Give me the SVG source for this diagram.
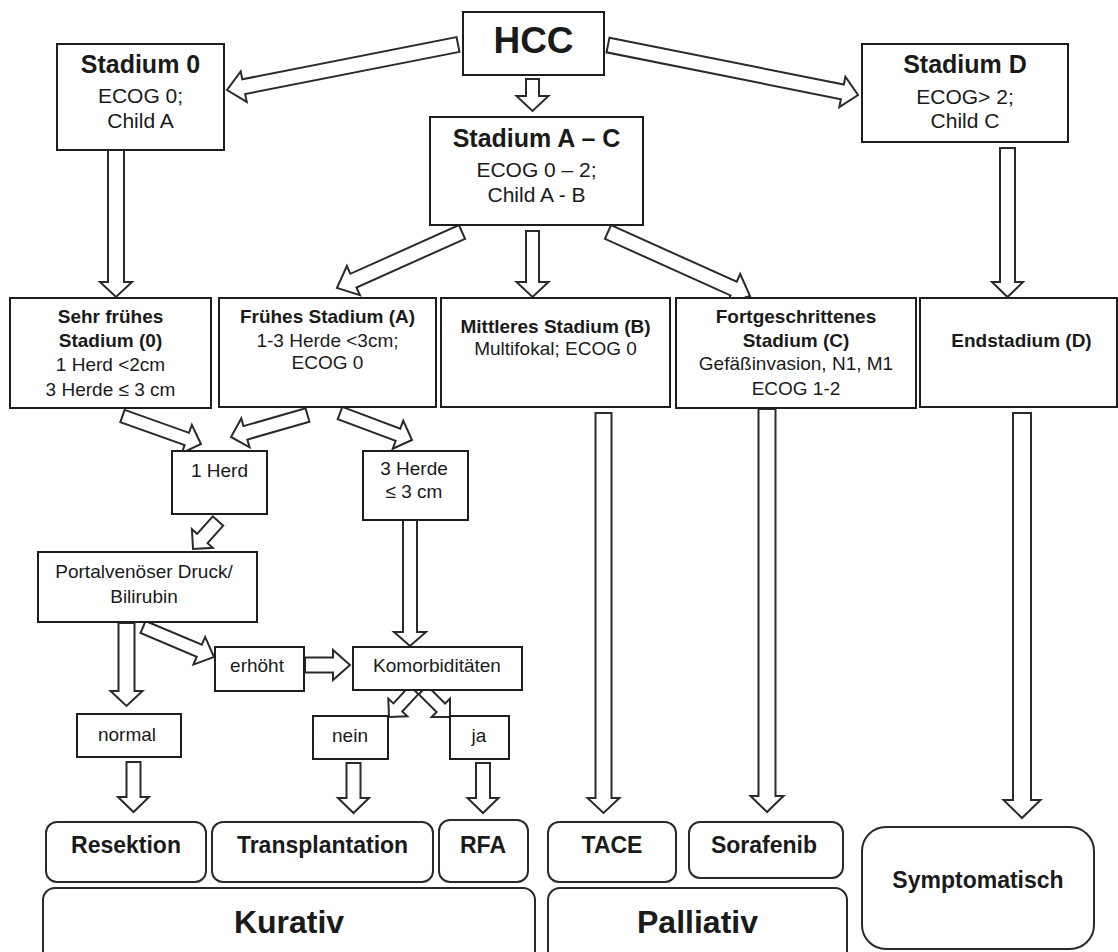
<svg xmlns="http://www.w3.org/2000/svg" width="1118" height="952" viewBox="0 0 1118 952">
<style>
.bg{fill:#ffffff}
.arr{fill:#ffffff;stroke:#2a2a2a;stroke-width:2;stroke-linejoin:miter}
.box{fill:#ffffff;stroke:#1e1e1e;stroke-width:2}
.rbox{fill:#ffffff;stroke:#2a2a2a;stroke-width:2}
text{font-family:"Liberation Sans",Arial,sans-serif;fill:#1a1a1a;text-anchor:middle}
.hcc{font-size:37px;font-weight:bold}
.t1{font-size:25px;font-weight:bold}
.d1{font-size:21px}
.t2{font-size:19px;font-weight:bold}
.d2{font-size:19px}
.tr{font-size:23px;font-weight:bold}
.big{font-size:32px;font-weight:bold}
</style>
<rect class="bg" x="0" y="0" width="1118" height="952"/>
<g id="connectors">
<polygon class="arr" transform="translate(458,44.5) rotate(168.86)" points="0,-7.5 218.4,-7.5 218.4,-15.5 235.4,0 218.4,15.5 218.4,7.5 0,7.5"/>
<polygon class="arr" transform="translate(532.5,79) rotate(90)" points="0,-6.5 17,-6.5 17,-16 32,0 17,16 17,6.5 0,6.5"/>
<polygon class="arr" transform="translate(608,45) rotate(11.31)" points="0,-7.5 239,-7.5 239,-15.5 255,0 239,15.5 239,7.5 0,7.5"/>
<polygon class="arr" transform="translate(116,150) rotate(90)" points="0,-8 132,-8 132,-16 147,0 132,16 132,8 0,8"/>
<polygon class="arr" transform="translate(1007.5,148) rotate(90)" points="0,-7.5 134,-7.5 134,-15.5 149,0 134,15.5 134,7.5 0,7.5"/>
<polygon class="arr" transform="translate(462,232) rotate(155.87)" points="0,-7.5 119,-7.5 119,-16 137,0 119,16 119,7.5 0,7.5"/>
<polygon class="arr" transform="translate(532.5,231) rotate(90)" points="0,-6.5 51,-6.5 51,-16 66,0 51,16 51,6.5 0,6.5"/>
<polygon class="arr" transform="translate(608,232) rotate(24.26)" points="0,-7.5 137.8,-7.5 137.8,-16 155.8,0 137.8,16 137.8,7.5 0,7.5"/>
<polygon class="arr" transform="translate(122.5,416) rotate(19.63)" points="0,-6.5 68.3,-6.5 68.3,-15 83.3,0 68.3,15 68.3,6.5 0,6.5"/>
<polygon class="arr" transform="translate(307.5,415) rotate(163.96)" points="0,-7 64.6,-7 64.6,-15 79.6,0 64.6,15 64.6,7 0,7"/>
<polygon class="arr" transform="translate(340,413) rotate(20.56)" points="0,-6.5 61.9,-6.5 61.9,-15 76.9,0 61.9,15 61.9,6.5 0,6.5"/>
<polygon class="arr" transform="translate(218,521) rotate(131.76)" points="0,-7 23.5,-7 23.5,-14 37.5,0 23.5,14 23.5,7 0,7"/>
<polygon class="arr" transform="translate(126.5,623) rotate(90)" points="0,-8 68,-8 68,-16 83,0 68,16 68,8 0,8"/>
<polygon class="arr" transform="translate(143,627) rotate(22.9)" points="0,-6.5 61.1,-6.5 61.1,-15 77.1,0 61.1,15 61.1,6.5 0,6.5"/>
<polygon class="arr" transform="translate(305,665)" points="0,-7.5 28,-7.5 28,-15 45,0 28,15 28,7.5 0,7.5"/>
<polygon class="arr" transform="translate(410,520) rotate(90)" points="0,-7 112,-7 112,-16 126,0 112,16 112,7 0,7"/>
<polygon class="arr" transform="translate(414,690) rotate(132.8)" points="0,-6 23.8,-6 23.8,-13 36.8,0 23.8,13 23.8,6 0,6"/>
<polygon class="arr" transform="translate(423,690) rotate(45)" points="0,-6 25.2,-6 25.2,-13 38.2,0 25.2,13 25.2,6 0,6"/>
<polygon class="arr" transform="translate(133.5,762) rotate(90)" points="0,-7 35,-7 35,-15.5 50,0 35,15.5 35,7 0,7"/>
<polygon class="arr" transform="translate(353.5,763) rotate(90)" points="0,-7 35,-7 35,-15.5 50,0 35,15.5 35,7 0,7"/>
<polygon class="arr" transform="translate(483,763) rotate(90)" points="0,-7 35,-7 35,-15.5 50,0 35,15.5 35,7 0,7"/>
<polygon class="arr" transform="translate(603.5,413) rotate(90)" points="0,-8 385,-8 385,-16 400,0 385,16 385,8 0,8"/>
<polygon class="arr" transform="translate(767,409) rotate(90)" points="0,-8.5 387,-8.5 387,-16.5 403,0 387,16.5 387,8.5 0,8.5"/>
<polygon class="arr" transform="translate(1022,413) rotate(90)" points="0,-9 387,-9 387,-18.5 405,0 387,18.5 387,9 0,9"/>
</g>
<g id="hcc"><rect class="box" x="463" y="12" width="141" height="63"/><text class="hcc" x="533.5" y="53">HCC</text></g>
<g id="stadium0"><rect class="box" x="57" y="44" width="167" height="106"/><text class="t1" x="140.5" y="73">Stadium 0</text><text class="d1" x="140.5" y="103">ECOG 0;</text><text class="d1" x="140.5" y="128">Child A</text></g>
<g id="stadiumAC"><rect class="box" x="430" y="117" width="213" height="108"/><text class="t1" x="536.5" y="147">Stadium A – C</text><text class="d1" x="536.5" y="177">ECOG 0 – 2;</text><text class="d1" x="536.5" y="202">Child A - B</text></g>
<g id="stadiumD"><rect class="box" x="862" y="44" width="206" height="98"/><text class="t1" x="965" y="73">Stadium D</text><text class="d1" x="965" y="104">ECOG&gt; 2;</text><text class="d1" x="965" y="128">Child C</text></g>
<g id="sehrfrueh"><rect class="box" x="10" y="298" width="201" height="110"/><text class="t2" x="110.5" y="323">Sehr frühes</text><text class="t2" x="110.5" y="347">Stadium (0)</text><text class="d2" x="110.5" y="371">1 Herd &lt;2cm</text><text class="d2" x="110.5" y="396">3 Herde ≤ 3 cm</text></g>
<g id="frueh"><rect class="box" x="219" y="298" width="217" height="109"/><text class="t2" x="327.5" y="323">Frühes Stadium (A)</text><text class="d2" x="327.5" y="347">1-3 Herde &lt;3cm;</text><text class="d2" x="327.5" y="369">ECOG 0</text></g>
<g id="mittel"><rect class="box" x="441" y="298" width="229" height="109"/><text class="t2" x="555.5" y="333">Mittleres Stadium (B)</text><text class="d2" x="555.5" y="355">Multifokal; ECOG 0</text></g>
<g id="fortg"><rect class="box" x="676" y="298" width="240" height="110"/><text class="t2" x="796" y="323">Fortgeschrittenes</text><text class="t2" x="796" y="347">Stadium (C)</text><text class="d2" x="796" y="370">Gefäßinvasion, N1, M1</text><text class="d2" x="796" y="395">ECOG 1-2</text></g>
<g id="end"><rect class="box" x="920" y="298" width="197" height="109"/><text class="t2" x="1021.5" y="347">Endstadium (D)</text></g>
<g id="herd1"><rect class="box" x="172" y="451" width="95" height="63"/><text class="d2" x="219.5" y="477">1 Herd</text></g>
<g id="herde3"><rect class="box" x="363" y="451" width="105" height="69"/><text class="d2" x="414" y="475">3 Herde</text><text class="d2" x="414" y="498">≤ 3 cm</text></g>
<g id="portal"><rect class="box" x="38" y="552" width="219" height="70"/><text class="d2" x="144" y="578">Portalvenöser Druck/</text><text class="d2" x="144" y="603">Bilirubin</text></g>
<g id="erhoeht"><rect class="box" x="215" y="647" width="89" height="44"/><text class="d2" x="257" y="672">erhöht</text></g>
<g id="komorb"><rect class="box" x="353" y="647" width="169" height="43"/><text class="d2" x="437" y="672">Komorbiditäten</text></g>
<g id="normal"><rect class="box" x="77" y="714" width="104" height="43"/><text class="d2" x="127" y="741">normal</text></g>
<g id="nein"><rect class="box" x="313" y="716" width="75" height="43"/><text class="d2" x="350" y="742">nein</text></g>
<g id="ja"><rect class="box" x="450" y="716" width="59" height="43"/><text class="d2" x="479" y="742">ja</text></g>
<g id="resektion"><rect class="rbox" x="46" y="822" width="160" height="60" rx="11"/><text class="tr" x="126" y="853">Resektion</text></g>
<g id="transplantation"><rect class="rbox" x="212" y="822" width="221" height="60" rx="11"/><text class="tr" x="322.5" y="853">Transplantation</text></g>
<g id="rfa"><rect class="rbox" x="439" y="820" width="89" height="62" rx="11"/><text class="tr" x="483" y="853">RFA</text></g>
<g id="tace"><rect class="rbox" x="548" y="822" width="128" height="60" rx="11"/><text class="tr" x="612" y="853">TACE</text></g>
<g id="sorafenib"><rect class="rbox" x="689" y="822" width="154" height="56" rx="11"/><text class="tr" x="764" y="853">Sorafenib</text></g>
<g id="kurativ"><rect class="rbox" x="43" y="888" width="492" height="80" rx="12"/><text class="big" x="289" y="933">Kurativ</text></g>
<g id="palliativ"><rect class="rbox" x="548" y="888" width="299" height="80" rx="12"/><text class="big" x="697.5" y="933">Palliativ</text></g>
<g id="symptomatisch"><rect class="rbox" x="862" y="827" width="232" height="122" rx="24"/><text class="tr" x="978" y="888">Symptomatisch</text></g>
</svg>
